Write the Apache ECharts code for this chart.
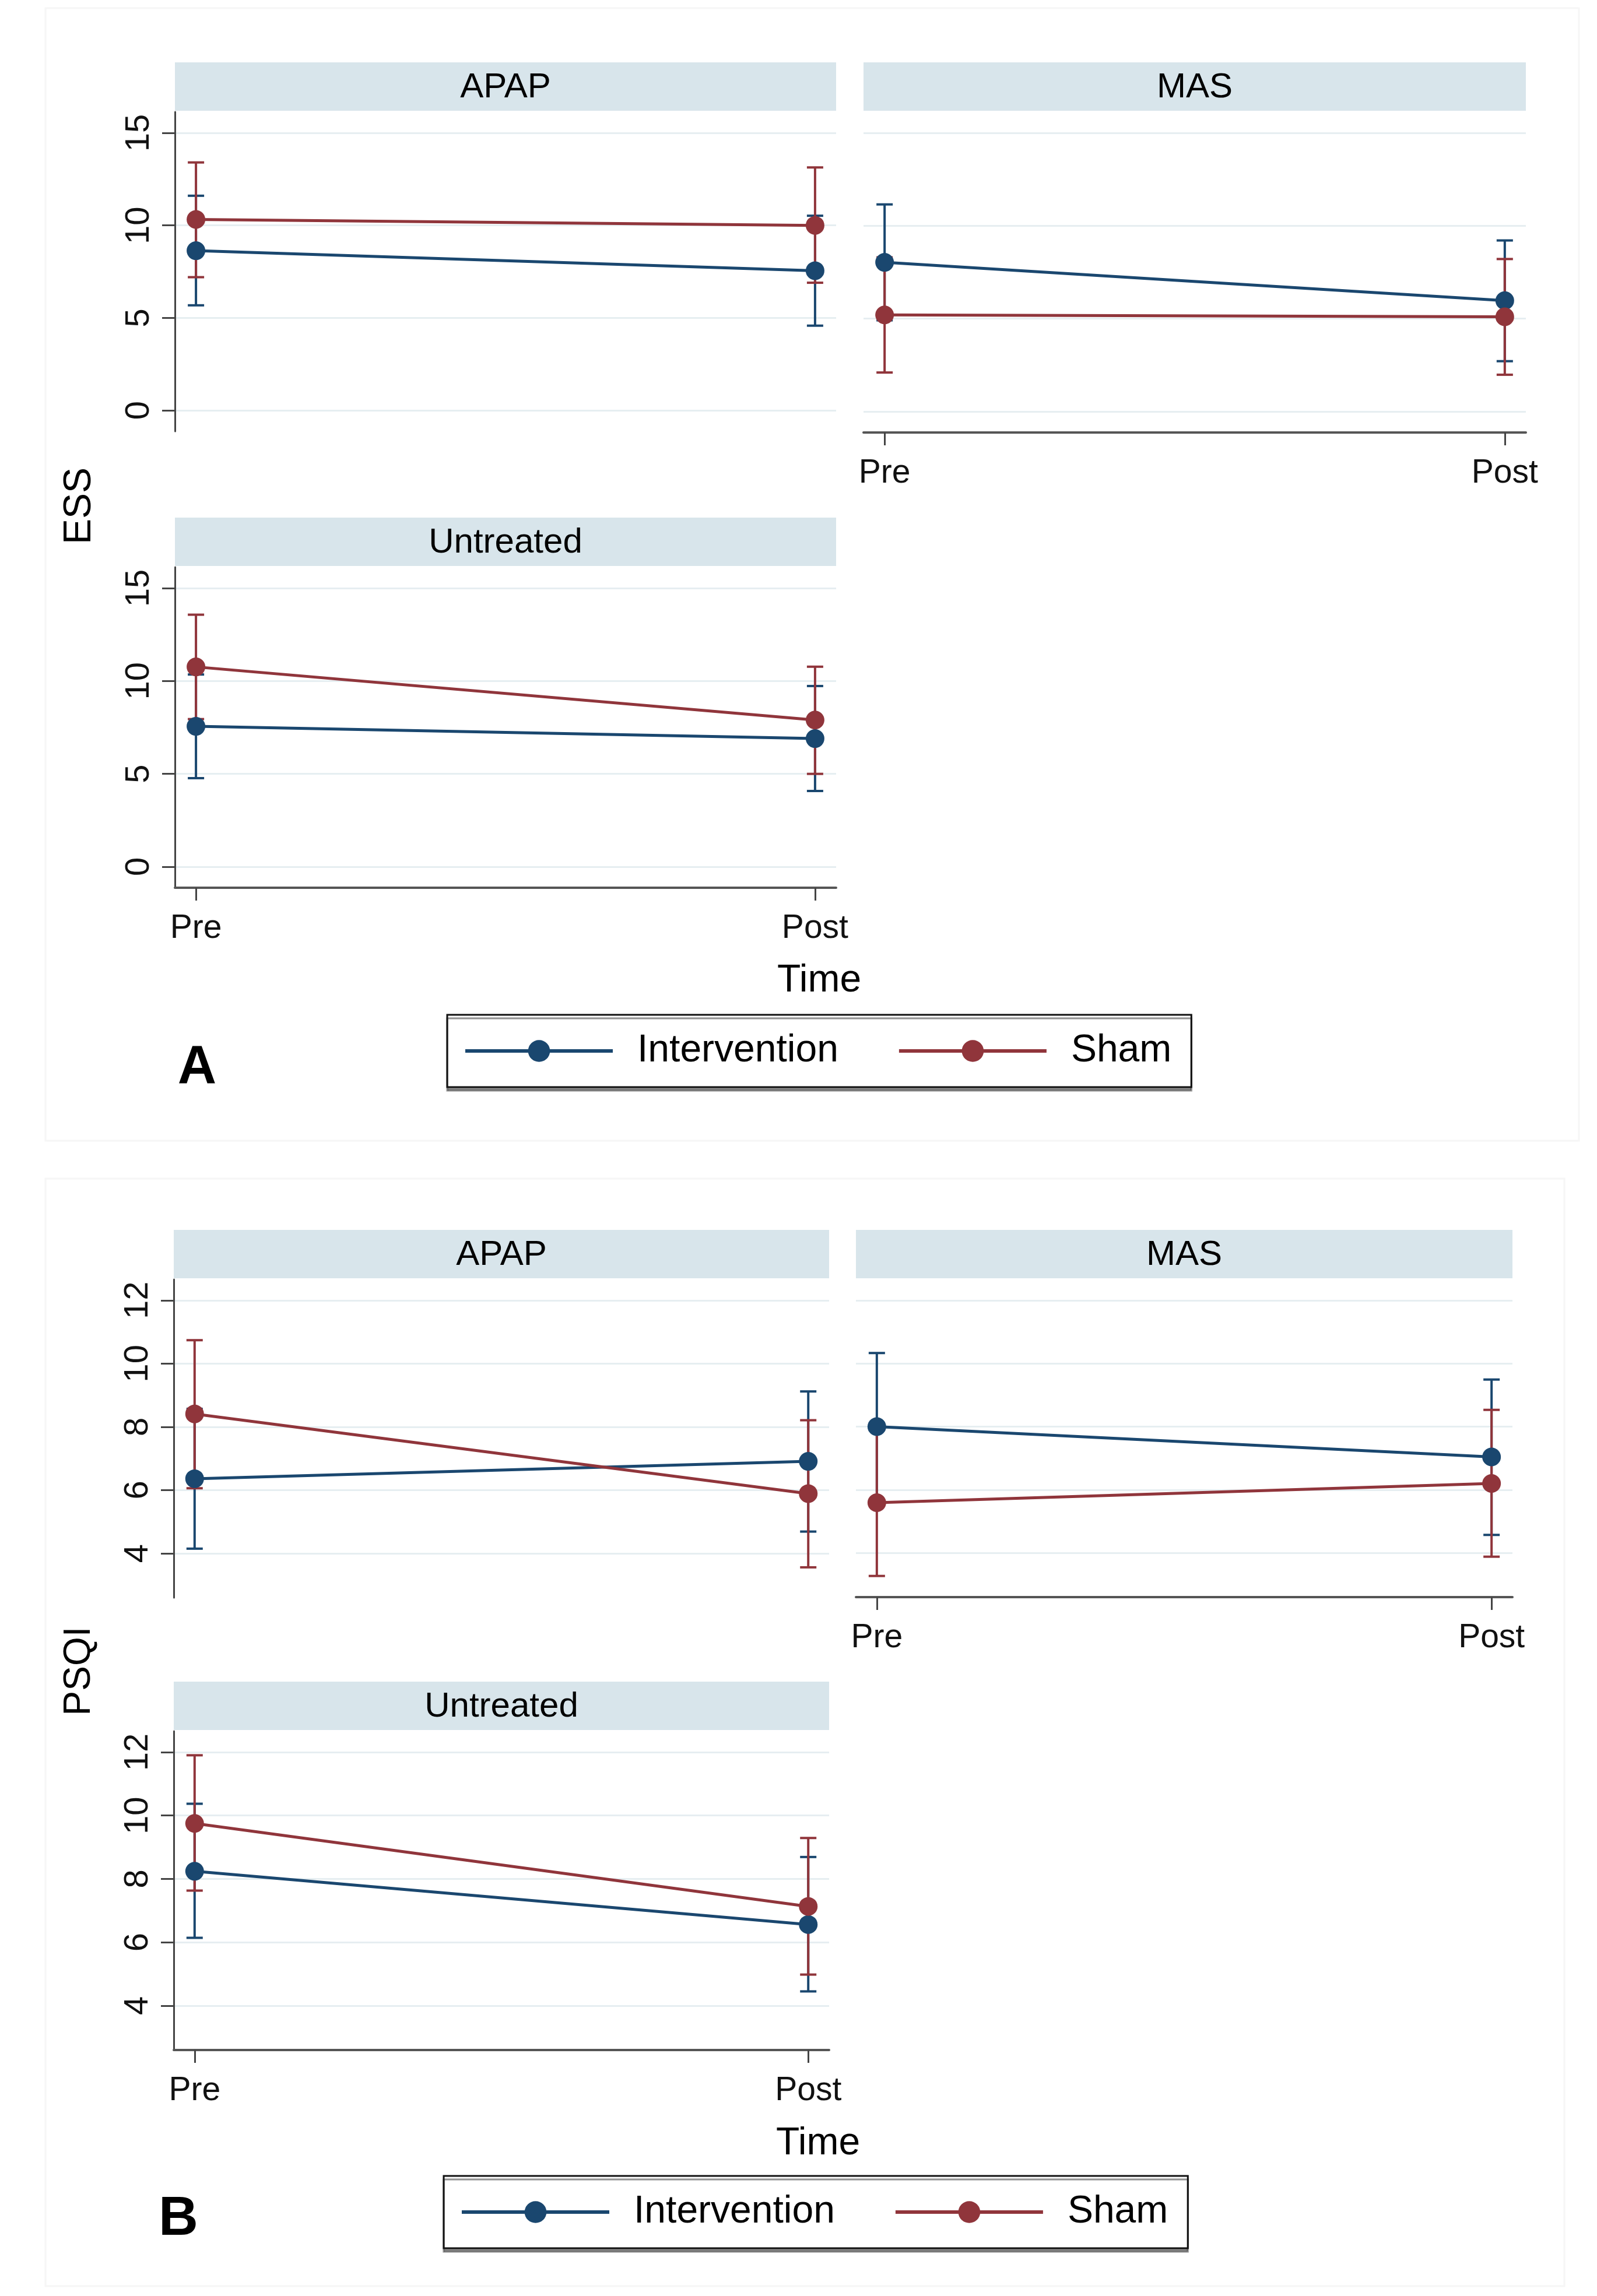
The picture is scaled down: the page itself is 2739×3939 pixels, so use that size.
<!DOCTYPE html>
<html>
<head>
<meta charset="utf-8">
<script src="https://cdn.jsdelivr.net/npm/echarts@6/dist/echarts.min.js"></script>
<style>
html,body{margin:0;padding:0;background:#fff;}
#chart{width:2739px;height:3939px;}
</style>
</head>
<body>
<div id="chart"></div>
<script>
// ---------------- DATA ----------------
const timeLabels = ['Pre', 'Post'];
const panelNames = ['APAP', 'MAS', 'Untreated'];
const seriesNames = ['Intervention', 'Sham'];

const essTicks = [0, 5, 10, 15];
const psqiTicks = [4, 6, 8, 10, 12];

// ESS, rows = APAP, MAS, Untreated ; cols = Pre, Post
const essInterventionMean = [[8.63, 7.55], [8.03, 5.97], [7.56, 6.90]];
const essInterventionLow  = [[5.68, 4.58], [4.91, 2.71], [4.77, 4.08]];
const essInterventionHigh = [[11.60, 10.52], [11.15, 9.21], [10.35, 9.73]];
const essShamMean = [[10.32, 10.00], [5.20, 5.10], [10.76, 7.90]];
const essShamLow  = [[7.20, 6.90], [2.10, 1.98], [7.95, 5.00]];
const essShamHigh = [[13.40, 13.13], [8.30, 8.21], [13.57, 10.77]];

// PSQI
const psqiInterventionMean = [[6.36, 6.91], [8.00, 7.04], [8.24, 6.56]];
const psqiInterventionLow  = [[4.15, 4.69], [5.67, 4.57], [6.14, 4.45]];
const psqiInterventionHigh = [[8.57, 9.12], [10.33, 9.49], [10.37, 8.69]];
const psqiShamMean = [[8.41, 5.89], [5.59, 6.20], [9.75, 7.13]];
const psqiShamLow  = [[6.06, 3.56], [3.27, 3.88], [7.63, 4.98]];
const psqiShamHigh = [[10.74, 8.21], [7.91, 8.53], [11.90, 9.29]];

// ---------------- STYLE / LAYOUT ----------------
const BLUE = '#1a476f';
const RED = '#90353b';
const FONT = '"Liberation Sans", Arial, sans-serif';
const HEADER_FILL = '#d8e5eb';
const GRID_COLOR = '#e6eef1';

const measures = [
  { ticks: essTicks, min: -1.13, max: 16.13,
    intMean: essInterventionMean, intLow: essInterventionLow, intHigh: essInterventionHigh,
    shamMean: essShamMean, shamLow: essShamLow, shamHigh: essShamHigh },
  { ticks: psqiTicks, min: 2.6, max: 12.66,
    intMean: psqiInterventionMean, intLow: psqiInterventionLow, intHigh: psqiInterventionHigh,
    shamMean: psqiShamMean, shamLow: psqiShamLow, shamHigh: psqiShamHigh }
];

const layout = [
  { left: 300,  top: 192,  width: 1134, height: 548, showX: false, showY: true },
  { left: 1481, top: 192,  width: 1136, height: 550, showX: true,  showY: false },
  { left: 300,  top: 973,  width: 1134, height: 550, showX: true,  showY: true },
  { left: 298,  top: 2195, width: 1124, height: 546, showX: false, showY: true },
  { left: 1468, top: 2195, width: 1126, height: 545, showX: true,  showY: false },
  { left: 298,  top: 2970, width: 1124, height: 547, showX: true,  showY: true }
];

const grids = [], xAxes = [], yAxes = [], series = [], graphics = [];

function pts(arr) { return timeLabels.map((t, k) => [k, arr[k]]); }
function bars(lo, hi) { return timeLabels.map((t, k) => [k, lo[k], hi[k]]); }

function errRender(color) {
  return function (params, api) {
    const x = api.value(0), lo = api.value(1), hi = api.value(2);
    const a = api.coord([x, lo]), b = api.coord([x, hi]);
    const hw = 14;
    const st = { stroke: color, lineWidth: 4 };
    return {
      type: 'group',
      children: [
        { type: 'line', shape: { x1: a[0], y1: a[1], x2: b[0], y2: b[1] }, style: st },
        { type: 'line', shape: { x1: a[0] - hw, y1: a[1], x2: a[0] + hw, y2: a[1] }, style: st },
        { type: 'line', shape: { x1: b[0] - hw, y1: b[1], x2: b[0] + hw, y2: b[1] }, style: st }
      ]
    };
  };
}

layout.forEach((L, i) => {
  const m = measures[i < 3 ? 0 : 1];
  const p = i % 3;
  grids.push({ left: L.left, top: L.top, width: L.width, height: L.height });
  xAxes.push({
    type: 'value', gridIndex: i, min: -0.034, max: 1.034,
    axisLine: { show: L.showX, onZero: false, lineStyle: { color: '#555', width: 4 } },
    axisTick: { show: L.showX, length: 22, customValues: [0, 1], lineStyle: { color: '#444', width: 3 } },
    axisLabel: { show: L.showX, customValues: [0, 1], formatter: v => timeLabels[Math.round(v)],
      fontSize: 57, color: '#111', fontFamily: FONT, margin: 42 },
    splitLine: { show: false }
  });
  yAxes.push({
    type: 'value', gridIndex: i, min: m.min, max: m.max,
    axisLine: { show: L.showY, onZero: false, lineStyle: { color: '#444', width: 3 } },
    axisTick: { show: L.showY, length: 22, customValues: m.ticks, lineStyle: { color: '#444', width: 3 } },
    axisLabel: { show: L.showY, rotate: 90, customValues: m.ticks, fontSize: 58, color: '#111',
      fontFamily: FONT, margin: 32 },
    splitLine: { show: true, lineStyle: { color: GRID_COLOR, width: 3 } }
  });
  series.push({
    type: 'custom', name: 'Intervention CI', xAxisIndex: i, yAxisIndex: i, z: 1,
    renderItem: errRender(BLUE), encode: { x: 0, y: [1, 2] },
    data: bars(m.intLow[p], m.intHigh[p]), silent: true
  });
  series.push({
    type: 'custom', name: 'Sham CI', xAxisIndex: i, yAxisIndex: i, z: 1,
    renderItem: errRender(RED), encode: { x: 0, y: [1, 2] },
    data: bars(m.shamLow[p], m.shamHigh[p]), silent: true
  });
  series.push({
    type: 'line', name: seriesNames[0], xAxisIndex: i, yAxisIndex: i, z: 3,
    symbol: 'circle', symbolSize: 32, showSymbol: true,
    itemStyle: { color: BLUE }, lineStyle: { color: BLUE, width: 5 },
    data: pts(m.intMean[p])
  });
  series.push({
    type: 'line', name: seriesNames[1], xAxisIndex: i, yAxisIndex: i, z: 4,
    symbol: 'circle', symbolSize: 32, showSymbol: true,
    itemStyle: { color: RED }, lineStyle: { color: RED, width: 5 },
    data: pts(m.shamMean[p])
  });
  // strip header
  graphics.push({
    type: 'rect', shape: { x: L.left, y: L.top - 85, width: L.width, height: 83 },
    style: { fill: HEADER_FILL }, z: 0
  });
  graphics.push({
    type: 'text', x: L.left + L.width / 2, y: L.top - 42,
    style: { text: panelNames[p], fill: '#000', font: '60px ' + FONT, textAlign: 'center', textVerticalAlign: 'middle' }
  });
});

// faint figure frames
graphics.push({ type: 'rect', shape: { x: 78, y: 14, width: 2630, height: 1943 }, style: { fill: null, stroke: '#f6f6f6', lineWidth: 3 }, z: -1 });
graphics.push({ type: 'rect', shape: { x: 78, y: 2022, width: 2605, height: 1900 }, style: { fill: null, stroke: '#f6f6f6', lineWidth: 3 }, z: -1 });

// axis titles and panel letters
graphics.push({ type: 'text', x: 137, y: 868, rotation: Math.PI / 2,
  style: { text: 'ESS', fill: '#000', font: '66px ' + FONT, textAlign: 'center', textVerticalAlign: 'middle' } });
graphics.push({ type: 'text', x: 136, y: 2867, rotation: Math.PI / 2,
  style: { text: 'PSQI', fill: '#000', font: '64px ' + FONT, textAlign: 'center', textVerticalAlign: 'middle' } });
graphics.push({ type: 'text', x: 1405, y: 1683,
  style: { text: 'Time', fill: '#000', font: '66px ' + FONT, textAlign: 'center', textVerticalAlign: 'middle' } });
graphics.push({ type: 'text', x: 1403, y: 3678,
  style: { text: 'Time', fill: '#000', font: '66px ' + FONT, textAlign: 'center', textVerticalAlign: 'middle' } });
graphics.push({ type: 'text', x: 338, y: 1833,
  style: { text: 'A', fill: '#000', font: 'bold 92px ' + FONT, textAlign: 'center', textVerticalAlign: 'middle' } });
graphics.push({ type: 'text', x: 306, y: 3808,
  style: { text: 'B', fill: '#000', font: 'bold 94px ' + FONT, textAlign: 'center', textVerticalAlign: 'middle' } });

function legendAt(left, top) {
  return {
    data: seriesNames, left: left, top: top, orient: 'horizontal',
    itemWidth: 253, itemHeight: 47, itemGap: 101,
    padding: [29, 34, 29, 28],
    backgroundColor: '#fff', borderColor: '#111', borderWidth: 3, borderRadius: 0,
    shadowColor: 'rgba(0,0,0,0.45)', shadowOffsetY: 6, shadowBlur: 1,
    lineStyle: { width: 6 },
    textStyle: { fontSize: 66, color: '#000', fontFamily: FONT, padding: [0, 0, 0, 37] },
    selectedMode: false
  };
}

const chart = echarts.init(document.getElementById('chart'), null, { renderer: 'canvas' });
chart.setOption({
  animation: false,
  backgroundColor: '#fff',
  textStyle: { fontFamily: FONT },
  grid: grids,
  xAxis: xAxes,
  yAxis: yAxes,
  legend: [legendAt(767, 1741), legendAt(761, 3733)],
  series: series,
  graphic: graphics
});
</script>
</body>
</html>
